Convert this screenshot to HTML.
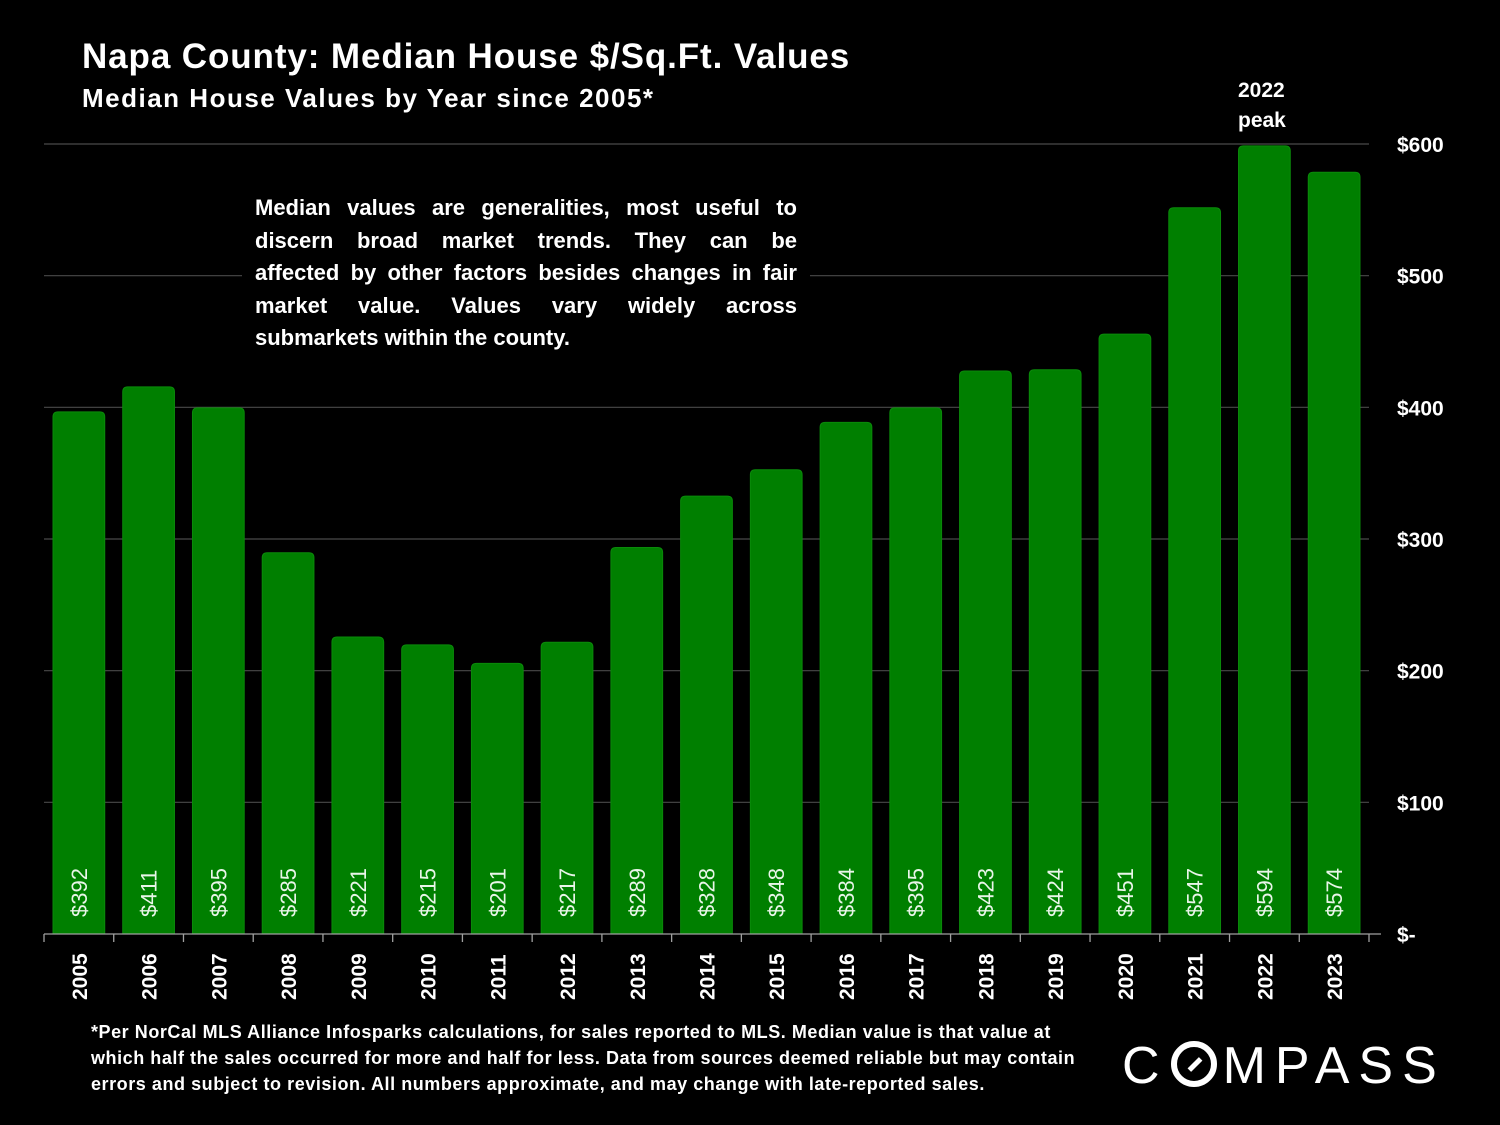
<!DOCTYPE html>
<html><head><meta charset="utf-8"><style>
body{margin:0;background:#000;}
#root{position:relative;width:1500px;height:1125px;background:#000;font-family:"Liberation Sans",sans-serif;color:#fff;overflow:hidden}
.t{position:absolute;font-weight:bold;white-space:nowrap}
.nl{text-align:justify;text-align-last:justify;white-space:nowrap;height:32.5px}
.fl{white-space:nowrap;height:26px}
</style></head><body>
<div id="root">
<div class="t" style="left:82px;top:37px;font-size:35px;letter-spacing:0.9px;">Napa County: Median House $/Sq.Ft. Values</div>
<div class="t" style="left:82px;top:83px;font-size:26px;letter-spacing:1.5px;">Median House Values by Year since 2005*</div>
<div class="t" style="left:1238px;top:76px;font-size:21px;line-height:30px;">2022<br>peak</div>
<div style="position:absolute;left:242px;top:192px;width:568px;padding:0 13px;background:#000;font-size:22px;font-weight:bold;line-height:32.5px;box-sizing:border-box;">
<div class="nl">Median values are generalities, most useful to</div>
<div class="nl">discern broad market trends. They can be</div>
<div class="nl">affected by other factors besides changes in fair</div>
<div class="nl">market value. Values vary widely across</div>
<div style="white-space:nowrap">submarkets within the county.</div>
</div>
<div style="position:absolute;left:91px;top:1019px;font-size:18px;font-weight:bold;line-height:26px;letter-spacing:0.55px;">
<div class="fl">*Per NorCal MLS Alliance Infosparks calculations, for sales reported to MLS. Median value is that value at</div>
<div class="fl">which half the sales occurred for more and half for less. Data from sources deemed reliable but may contain</div>
<div class="fl">errors and subject to revision. All numbers approximate, and may change with late-reported sales.</div>
</div>
<div style="position:absolute;left:1122px;top:1036px;font-size:52px;letter-spacing:9px;font-family:'Liberation Sans',sans-serif;">C<span style="display:inline-block;width:46px;height:46px;border:6px solid #fff;border-radius:50%;box-sizing:border-box;vertical-align:-4px;position:relative;margin:0 6px 0 2px"><span style="position:absolute;left:10px;top:15px;width:16px;height:5px;background:#fff;transform:rotate(-45deg)"></span></span>MPASS</div>
<svg id="chart" width="1500" height="1125" style="position:absolute;left:0;top:0;pointer-events:none;z-index:0"></svg>
</div>
<script>
const categories=["2005","2006","2007","2008","2009","2010","2011","2012","2013","2014","2015","2016","2017","2018","2019","2020","2021","2022","2023"];
const values=[392,411,395,285,221,215,201,217,289,328,348,384,395,423,424,451,547,594,574];
const ticks=[0,100,200,300,400,500,600];
const tickLabels=["$-","$100","$200","$300","$400","$500","$600"];
const svg=document.getElementById('chart');
svg.parentNode.insertBefore(svg,svg.parentNode.firstChild);
const NS="http://www.w3.org/2000/svg";
const X0=44,X1=1369,Y0=934,Y600=144;
const y=v=>Y0-(v/600)*(Y0-Y600);
const band=(X1-X0)/categories.length;
const x=i=>X0+band*i;
function mk(t,a){const e=document.createElementNS(NS,t);for(const k in a)e.setAttribute(k,a[k]);svg.appendChild(e);return e;}
ticks.forEach((t,i)=>{
 if(t>0){const g=mk('line',{x1:X0,x2:X1,y1:y(t),y2:y(t),stroke:'#4a4a4a','stroke-width':1.2});
 
 }
 const l=mk('text',{x:1397,y:y(t)+8,fill:'#fff','font-size':21,'font-weight':'bold','font-family':'Liberation Sans, sans-serif'});
 l.textContent=tickLabels[i];
 
 
});
values.forEach((v,i)=>{
 const bx=x(i)+9,bw=band-18,top=y(v)-6;
 const r=5;
 const p=mk('path',{d:`M${bx},${Y0} V${top+r} Q${bx},${top} ${bx+r},${top} H${bx+bw-r} Q${bx+bw},${top} ${bx+bw},${top+r} V${Y0} Z`,fill:'#007f00',stroke:'#0a8a0a','stroke-width':1});
 
 
 const cx=x(i)+band/2;
 const t=mk('text',{x:0,y:0,transform:`translate(${cx+8},917) rotate(-90)`,fill:'#e8f5e8','font-size':22,'font-family':'Liberation Sans, sans-serif'});
 t.textContent='$'+v;
 
 
 const c=mk('text',{x:0,y:0,transform:`translate(${cx+8},1000) rotate(-90)`,fill:'#fff','font-size':21,'font-weight':'bold','font-family':'Liberation Sans, sans-serif'});
 c.textContent=categories[i];
 
 
});
const ax=mk('line',{x1:X0,x2:X1+12,y1:Y0,y2:Y0,stroke:'#a0a0a0','stroke-width':1.3});


for(let i=0;i<=categories.length;i++){
 const tk=mk('line',{x1:x(i),x2:x(i),y1:Y0,y2:Y0+8,stroke:'#a0a0a0','stroke-width':1.3});
 
 
}
</script>
</body></html>
